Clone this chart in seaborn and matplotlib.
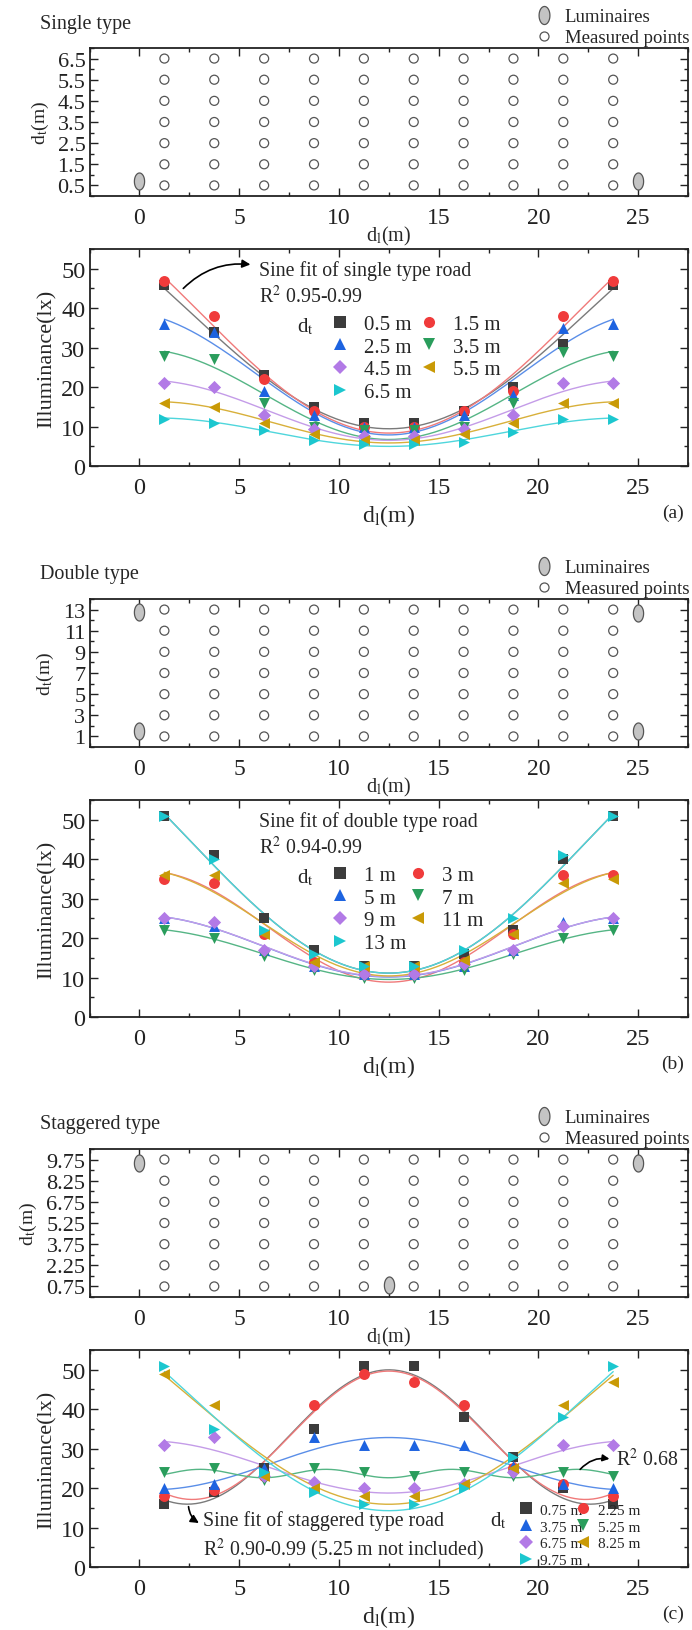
import numpy as np
import pandas as pd
import matplotlib
matplotlib.use("Agg")
import matplotlib.pyplot as plt
import seaborn as sns
from matplotlib.path import Path
from matplotlib.lines import Line2D
from matplotlib.ticker import AutoMinorLocator, MultipleLocator

sns.set_theme(style="ticks")
plt.rcParams['font.family'] = ['Liberation Serif', 'DejaVu Serif']
plt.rcParams['mathtext.fontset'] = 'stix'

# === data ===
x_meas = [1.25, 3.75, 6.25, 8.75, 11.25, 13.75, 16.25, 18.75, 21.25, 23.75]

single_dt = [0.5, 1.5, 2.5, 3.5, 4.5, 5.5, 6.5]
single_lum_x = [0, 25]
single_lum_y = [0.7, 0.7]
single_E = [
    [46, 34, 23, 15, 11, 11, 14, 20, 31, 46],
    [47, 38, 22, 14, 10, 10, 14, 19, 38, 47],
    [36, 34, 19, 13, 10, 10, 13, 18, 35, 36],
    [28, 27, 16, 10, 9, 9, 10, 16, 29, 28],
    [21, 20, 13, 9.5, 7.5, 7.5, 9.5, 13, 21, 21],
    [16, 15, 11, 8, 6.5, 6.5, 8, 11, 16, 16],
    [12, 11, 9, 6.5, 5.5, 5.5, 6, 8.5, 12, 12],
]

double_dt = [1, 3, 5, 7, 9, 11, 13]
double_lum_x = [0, 0, 25, 25]
double_lum_y = [12.8, 1.5, 12.7, 1.5]
double_E = [
    [51, 41, 25, 17, 13, 13, 16, 22, 40, 51],
    [35, 34, 21, 14, 11, 11, 14, 21, 36, 36],
    [25, 23, 17, 13, 11, 11, 13, 17, 24, 25],
    [22, 20, 15.5, 12, 10, 10, 12, 16, 20, 22],
    [25, 24, 17, 13, 11, 11, 13.5, 17, 23, 25],
    [36, 36, 21, 14, 13, 13, 14.5, 21, 34, 35],
    [51, 40, 22, 16, 13, 13, 17, 25, 41, 51],
]

stag_dt = [0.75, 2.25, 3.75, 5.25, 6.75, 8.25, 9.75]
stag_lum_x = [0, 25, 12.5]
stag_lum_y = [9.5, 9.5, 0.85]
stag_E = [
    [16, 19, 25, 35, 51, 51, 38, 28, 20, 16],
    [18, 19.5, 23, 41, 49, 47, 41, 25, 21, 18],
    [20, 21, 25, 33, 31, 31, 31, 25.5, 21, 20],
    [24, 25, 22, 25, 24, 23, 24, 23, 24, 23],
    [31, 33, 23, 21.5, 20, 20, 21, 24, 31, 31],
    [49, 41, 23, 20, 18, 18, 21, 25, 41, 47],
    [51, 35, 24, 19, 16, 16, 20, 28, 38, 51],
]

markers = ['s', 'o', '^', 'v', 'D', '<', '>']
point_colors = ['#3c3c3c', '#f03b3b', '#1d63e0', '#2a9d5c', '#b27ae6', '#c99a06', '#1cc7cf']
line_colors = ['#7a7a7a', '#f07a7a', '#5a8ee8', '#55b585', '#c49ce8', '#d8b03a', '#4fd6dc']

# === sine fit, y = y0 + A*cos(pi*(x-12.5)/w) ===
def sine_fit(x, y, w_grid):
    x = np.asarray(x, float)
    y = np.asarray(y, float)
    best = None
    for w in w_grid:
        basis = np.column_stack([np.ones_like(x), np.cos(np.pi * (x - 12.5) / w)])
        coef = np.linalg.lstsq(basis, y, rcond=None)[0]
        err = np.sum((basis @ coef - y) ** 2)
        if best is None or err < best[0]:
            best = (err, w, coef)
    _, w, coef = best
    xs = np.linspace(x.min(), x.max(), 200)
    return xs, coef[0] + coef[1] * np.cos(np.pi * (xs - 12.5) / w)

wide_grid = np.linspace(8, 20, 241)
short_grid = np.linspace(2.8, 3.6, 81)

# === figure layout (pixels) ===
W, H = 692, 1631
fig = plt.figure(figsize=(W / 100, H / 100), dpi=100)
left_px, right_px = 89.6, 688

def add_ax(top, bottom):
    return fig.add_axes([left_px / W, 1 - bottom / H, (right_px - left_px) / W, (bottom - top) / H])

ellipse_t = np.linspace(0, 2 * np.pi, 60)
ellipse_marker = Path(np.column_stack([0.6 * np.cos(ellipse_t), np.sin(ellipse_t)]), closed=True)

def style_ax(ax, fsx, fsy, padx):
    ax.set_xlim(-2.5, 27.5)
    ax.xaxis.set_major_locator(MultipleLocator(5))
    ax.xaxis.set_minor_locator(AutoMinorLocator(2))
    ax.yaxis.set_minor_locator(AutoMinorLocator(2))
    ax.tick_params(which='both', direction='in', top=True, right=True, width=1.0, colors='#222222')
    ax.tick_params(which='major', length=5.5)
    ax.tick_params(which='minor', length=3)
    ax.tick_params(axis='x', labelsize=fsx, pad=padx)
    ax.tick_params(axis='y', labelsize=fsy, pad=3)
    for s in ax.spines.values():
        s.set_linewidth(1.3)
        s.set_color('#222222')

groups = [
    dict(off=0, title='Single type', dt=single_dt, lx=single_lum_x, ly=single_lum_y, E=single_E,
         ylim=(0, 7), ytl=['0.5', '1.5', '2.5', '3.5', '4.5', '5.5', '6.5'],
         fit='Sine fit of single type road', r2=r'R$^2$ 0.95-0.99', tag='(a)', cs=0.35,
         names=['0.5 m', '1.5 m', '2.5 m', '3.5 m', '4.5 m', '5.5 m', '6.5 m']),
    dict(off=551, title='Double type', dt=double_dt, lx=double_lum_x, ly=double_lum_y, E=double_E,
         ylim=(0, 14), ytl=['1', '3', '5', '7', '9', '11', '13'],
         fit='Sine fit of double type road', r2=r'R$^2$ 0.94-0.99', tag='(b)', cs=0.05,
         names=['1 m', '3 m', '5 m', '7 m', '9 m', '11 m', '13 m']),
    dict(off=1101, title='Staggered type', dt=stag_dt, lx=stag_lum_x, ly=stag_lum_y, E=stag_E,
         ylim=(0, 10.5), ytl=['0.75', '2.25', '3.75', '5.25', '6.75', '8.25', '9.75'],
         fit='Sine fit of staggered type road', r2=r'R$^2$ 0.90-0.99 (5.25 m not included)',
         tag='(c)', cs=-0.45,
         names=['0.75 m', '2.25 m', '3.75 m', '5.25 m', '6.75 m', '8.25 m', '9.75 m']),
]

for gi, g in enumerate(groups):
    off = g['off']
    # --- layout panel ---
    ax1 = add_ax(49 + off, 197 + off)
    grid = pd.DataFrame([(x, d) for d in g['dt'] for x in x_meas], columns=['x', 'y'])
    sns.scatterplot(data=grid, x='x', y='y', marker='o', s=42, facecolor='none',
                    edgecolor='#555555', linewidth=0.9, ax=ax1, legend=False)
    sns.scatterplot(x=g['lx'], y=g['ly'], marker=ellipse_marker, s=150, color='#c4c4c4',
                    edgecolor='#555555', linewidth=0.9, ax=ax1, legend=False, zorder=3)
    style_ax(ax1, 17, 16, 8)
    ax1.set_ylim(*g['ylim'])
    ax1.set_yticks(g['dt'])
    ax1.set_yticklabels(g['ytl'])
    ax1.set_xlabel(r'd$_\mathrm{l}$(m)', fontsize=14.5, labelpad=-3)
    ax1.set_ylabel(r'd$_\mathrm{t}$(m)', fontsize=14, labelpad=5)
    h_lum = Line2D([], [], marker=ellipse_marker, markersize=13, linestyle='none',
                   markerfacecolor='#c4c4c4', markeredgecolor='#555555', markeredgewidth=0.9)
    h_pts = Line2D([], [], marker='o', markersize=6.5, linestyle='none',
                   markerfacecolor='none', markeredgecolor='#555555', markeredgewidth=0.9)
    ax1.legend([h_lum, h_pts], ['Luminaires', 'Measured points'], loc='lower right',
               bbox_to_anchor=(1.005, 1.0), frameon=False, fontsize=13.5,
               handletextpad=0.6, labelspacing=0.2, borderaxespad=0, handlelength=1.0,
               borderpad=0.1)
    fig.text(40 / W, 1 - (24 + off) / H, g['title'], fontsize=14.5, va='center', ha='left')

    # --- illuminance panel ---
    ax2 = add_ax(250 + off, 467 + off)
    for i, vals in enumerate(g['E']):
        wg = short_grid if (gi == 2 and i == 3) else wide_grid
        xs, ys = sine_fit(x_meas, vals, wg)
        sns.lineplot(x=xs, y=ys, color=line_colors[i], lw=1.0, ax=ax2, legend=False,
                     estimator=None, sort=False)
    for i, vals in enumerate(g['E']):
        sns.scatterplot(x=x_meas, y=vals, marker=markers[i], s=62 if markers[i] != 'D' else 45,
                        color=point_colors[i], linewidth=0, ax=ax2, legend=False, zorder=3)
    style_ax(ax2, 17.5, 17.5, 8)
    ax2.set_ylim(0, 55)
    ax2.yaxis.set_major_locator(MultipleLocator(10))
    ax2.yaxis.set_minor_locator(AutoMinorLocator(2))
    ax2.set_xlabel(r'd$_\mathrm{l}$(m)', fontsize=17, labelpad=3)
    ax2.set_ylabel('Illuminance(lx)', fontsize=16, labelpad=3)
    fig.text(684 / W, 1 - (513 + off) / H, g['tag'], fontsize=14, va='center', ha='right')

    handles = [Line2D([], [], marker=markers[i], linestyle='none', color=point_colors[i],
                      markersize=8 if markers[i] != 'D' else 7, markeredgewidth=0)
               for i in range(7)]
    order = [0, 2, 4, 6, 1, 3, 5]
    if gi < 2:
        ax2.text(6.0, 49.6, g['fit'], fontsize=14.3, va='center', ha='left')
        ax2.text(6.0, 43.0, g['r2'], fontsize=14.3, va='center', ha='left')
        ax2.text(8.3, 35.5, r'd$_\mathrm{t}$', fontsize=15, va='center', ha='center')
        ax2.legend([handles[k] for k in order], [g['names'][k] for k in order], ncol=2,
                   loc='center left', bbox_to_anchor=(0.401, 0.497), frameon=False, fontsize=15,
                   handletextpad=0.65, columnspacing=g['cs'], labelspacing=0.15, handlelength=1.0,
                   borderaxespad=0, borderpad=0)
        if gi == 0:
            ax2.annotate('', xy=(5.7, 51), xytext=(2.1, 44.5),
                         arrowprops=dict(arrowstyle='-|>', color='black', lw=1.2,
                                         connectionstyle='arc3,rad=-0.25', mutation_scale=12))
    else:
        ax2.text(3.2, 11.8, g['fit'], fontsize=14.3, va='center', ha='left')
        ax2.text(3.2, 4.6, g['r2'], fontsize=14.3, va='center', ha='left')
        ax2.text(18.0, 11.8, r'd$_\mathrm{t}$', fontsize=15, va='center', ha='center')
        ax2.legend([handles[k] for k in order], [g['names'][k] for k in order], ncol=2,
                   loc='center left', bbox_to_anchor=(0.716, 0.147), frameon=False, fontsize=11,
                   handletextpad=0.45, columnspacing=g['cs'], labelspacing=0.2, handlelength=1.0,
                   borderaxespad=0, borderpad=0)
        ax2.annotate('', xy=(3.1, 10.8), xytext=(2.45, 16),
                     arrowprops=dict(arrowstyle='-|>', color='black', lw=1.2,
                                     connectionstyle='arc3,rad=0.3', mutation_scale=12))
        ax2.text(23.9, 27.3, r'R$^2$ 0.68', fontsize=14.3, va='center', ha='left')
        ax2.annotate('', xy=(23.7, 27.3), xytext=(22.0, 24.2),
                     arrowprops=dict(arrowstyle='-|>', color='black', lw=1.2,
                                     connectionstyle='arc3,rad=-0.3', mutation_scale=10))

fig.savefig('out.png', dpi=100, facecolor='white')
